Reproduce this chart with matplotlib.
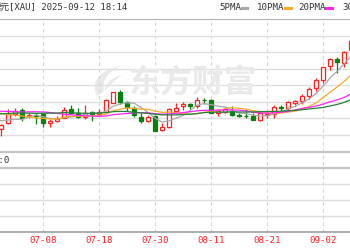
import numpy as np
import pandas as pd
import matplotlib.pyplot as plt
from matplotlib.path import Path
from matplotlib.patches import PathPatch

# daily bars, spot gold (XAU), 06-25 .. 09-08
dates = ['06-25', '06-26', '06-27', '06-30', '07-01', '07-02', '07-03', '07-04', '07-07',
         '07-08', '07-09', '07-10', '07-11', '07-14', '07-15', '07-16', '07-17', '07-18',
         '07-21', '07-22', '07-23', '07-24', '07-25', '07-28', '07-29', '07-30', '07-31',
         '08-01', '08-04', '08-05', '08-06', '08-07', '08-08', '08-11', '08-12', '08-13',
         '08-14', '08-15', '08-18', '08-19', '08-20', '08-21', '08-22', '08-25', '08-26',
         '08-27', '08-28', '08-29', '09-01', '09-02', '09-03', '09-04', '09-05', '09-08']
opens = [3323, 3333, 3328, 3274, 3300, 3338, 3355, 3329, 3334,
         3338, 3302, 3311, 3324, 3362, 3345, 3326, 3348, 3340,
         3348, 3386, 3434, 3390, 3364, 3326, 3309, 3330, 3271,
         3285, 3350, 3372, 3381, 3372, 3400, 3398, 3343, 3349,
         3352, 3335, 3332, 3331, 3315, 3335, 3340, 3368, 3364,
         3387, 3396, 3416, 3448, 3483, 3541, 3571, 3556, 3610]
highs = [3348, 3350, 3329, 3298, 3358, 3365, 3366, 3342, 3342,
         3345, 3317, 3330, 3368, 3375, 3366, 3377, 3352, 3361,
         3402, 3433, 3439, 3394, 3373, 3345, 3334, 3334, 3300,
         3363, 3385, 3390, 3385, 3409, 3405, 3404, 3358, 3369,
         3374, 3345, 3358, 3345, 3350, 3351, 3378, 3376, 3393,
         3398, 3424, 3453, 3490, 3540, 3578, 3579, 3605, 3655]
lows = [3312, 3318, 3255, 3247, 3296, 3331, 3311, 3322, 3296,
        3285, 3282, 3306, 3320, 3340, 3320, 3319, 3310, 3332,
        3345, 3385, 3381, 3351, 3325, 3302, 3305, 3265, 3266,
        3281, 3346, 3357, 3358, 3366, 3382, 3341, 3331, 3344,
        3330, 3325, 3323, 3313, 3311, 3324, 3322, 3352, 3352,
        3375, 3382, 3402, 3436, 3471, 3525, 3512, 3540, 3584]
closes = [3333, 3328, 3274, 3293, 3338, 3350, 3322, 3333, 3330,
          3302, 3311, 3318, 3355, 3343, 3328, 3345, 3340, 3346,
          3397, 3431, 3390, 3369, 3336, 3309, 3326, 3268, 3284,
          3362, 3366, 3381, 3374, 3397, 3397, 3343, 3350, 3358,
          3333, 3332, 3330, 3315, 3343, 3338, 3368, 3364, 3390,
          3395, 3416, 3446, 3482, 3540, 3571, 3559, 3600, 3650]
# closes before 06-25 (off screen), only used to warm up the moving averages
prior_closes = [3202, 3230, 3290, 3315, 3294, 3357, 3342, 3300, 3288, 3318, 3289,
                3381, 3353, 3373, 3352, 3310, 3326, 3322, 3355, 3386, 3433, 3385,
                3388, 3369, 3369, 3368, 3368, 3323]

tick_dates = ['06-25', '07-08', '07-18', '07-30', '08-11', '08-21', '09-02']
ma_periods = [5, 10, 20, 30]
ma_names = ['5PMA', '10PMA', '20PMA', '30PMA']
ma_colors = ['#a8a8a8', '#f7a928', '#ff22ff', '#23803a']

W, H = 350, 250
RED = '#ff2020'
GREEN = '#08800f'
MONO = ['DejaVu Sans Mono', 'Noto Sans CJK SC']


def fx(x):
    return x / W


def fy(y):
    return 1 - y / H


fig = plt.figure(figsize=(W / 100, H / 100), dpi=100)
fig.patch.set_facecolor('white')

top, main_bot, sub_bot = 19.3, 151.5, 231.5
ax = fig.add_axes([0, fy(main_bot), 1, (main_bot - top) / H])
sub = fig.add_axes([0, fy(sub_bot), 1, (sub_bot - main_bot) / H], sharex=ax)

x = np.arange(len(dates))
i0 = dates.index('07-08')
ax.set_ylim(3180, 3740)

# watermark (pixel coords)
wm = fig.text(fx(192), fy(84), '东方财富', ha='center', va='center', fontsize=23,
              fontweight='bold', color='#e9e9e9', family='Noto Sans CJK SC')
wm.set_zorder(0)
sw = [(97, 96), (90, 84), (98, 70), (121, 66),
      (108, 72), (101, 80), (104, 92),
      (106, 84), (110, 78), (122, 75),
      (111, 82), (108, 90), (97, 96)]
codes = [Path.MOVETO, Path.CURVE4, Path.CURVE4, Path.CURVE4,
         Path.CURVE4, Path.CURVE4, Path.CURVE4,
         Path.CURVE4, Path.CURVE4, Path.CURVE4,
         Path.CURVE4, Path.CURVE4, Path.CURVE4]
sw = [(fx(a), fy(b)) for a, b in sw]
fig.add_artist(PathPatch(Path(sw, codes), transform=fig.transFigure,
                         facecolor='#e9e9e9', edgecolor='none', zorder=0))
ax.patch.set_alpha(0)

# grid
ax.set_yticks(np.arange(3180, 3741, 70))
ax.yaxis.grid(True, color='#dedede', lw=1.0)
ax.tick_params(left=False, bottom=False, labelleft=False, labelbottom=False)
for s in ['left', 'right']:
    ax.spines[s].set_visible(False)
ax.spines['top'].set_color('#b8b8b8')
ax.spines['bottom'].set_color('#c4c4c4')
ax.spines['bottom'].set_linewidth(1.6)

tick_idx = [dates.index(d) for d in tick_dates]
for a in (ax, sub):
    for t in tick_idx:
        a.axvline(t, color='#d4d4d4', lw=0.8, ls=(0, (3, 3)), zorder=0.5)

# candles
for i in x:
    o, h, l, c = opens[i], highs[i], lows[i], closes[i]
    up = c >= o
    col = RED if up else GREEN
    ax.vlines(i, l, h, color=col, lw=0.9, zorder=2)
    body = max(abs(c - o), 0.8)
    ax.bar(i, body, bottom=min(o, c), width=0.68, facecolor='white' if up else col,
           edgecolor=col, lw=0.9, zorder=3)

# moving averages
all_closes = pd.Series(prior_closes + closes, dtype=float)
n0 = len(prior_closes)
for n, col in zip(ma_periods, ma_colors):
    ma = all_closes.rolling(n, min_periods=1).mean().iloc[n0:].to_numpy()
    ax.plot(x, ma, color=col, lw=0.9, zorder=4)

# lower panel (volume, empty)
sub.set_ylim(0, 5)
sub.patch.set_alpha(0)
for yv in (1, 2, 3):
    sub.axhline(yv, color='#dedede', lw=1.0)
sub.axhline(4, color='#c4c4c4', lw=1.6)
for s in ['left', 'right', 'top']:
    sub.spines[s].set_visible(False)
sub.spines['bottom'].set_color('#a0a0a0')
sub.spines['bottom'].set_linewidth(1.2)
sub.set_yticks([])
sub.set_xticks(tick_idx)
sub.set_xticklabels(tick_dates, color=RED, fontsize=6.6, family='DejaVu Sans Mono')
sub.tick_params(axis='x', length=0, pad=3)
ax.set_xlim(i0 - 43 / 7, i0 + 307 / 7)
fig.text(fx(10.5), fy(160.5), '成交量:0', ha='right', va='center', fontsize=6.6,
         color='#333333', family=MONO)

# header
fig.text(fx(0.3), fy(7.5), '元[XAU] 2025-09-12 18:14', ha='left', va='center',
         fontsize=6.5, color='#333333', family=MONO)
fig.text(fx(1.5), fy(7.5), '美', ha='right', va='center', fontsize=6.5,
         color='#333333', family=MONO)
lx = [219, 257, 298, 342]
for name, col, x0 in zip(ma_names, ma_colors, lx):
    fig.text(fx(x0), fy(7.5), name, ha='left', va='center', fontsize=6.6,
             color='#333333', family='DejaVu Sans Mono')
    w = 5.3 * len(name)
    fig.add_artist(plt.Line2D([fx(x0 + w + 1.5), fx(x0 + w + 7)], [fy(8), fy(8)],
                              color=col, lw=2.2, transform=fig.transFigure))

fig.savefig('out.png', dpi=100)
